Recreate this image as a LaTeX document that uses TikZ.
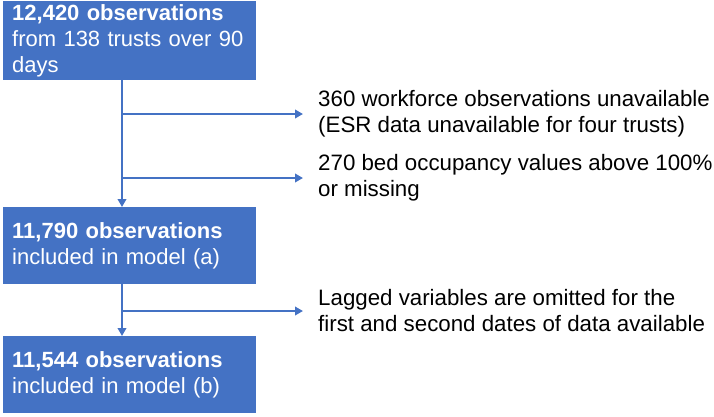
\documentclass[tikz,border=0pt]{standalone}
\usepackage{fontspec}
\setmainfont{Liberation Sans}
\usetikzlibrary{arrows.meta}
\definecolor{obox}{HTML}{4472C4}
\begin{document}
\begin{tikzpicture}[x=1pt,y=-1pt,
  box/.style={fill=obox, draw=none, text=white, minimum width=253pt,
    inner xsep=9pt, inner ysep=0pt, align=left, text width=235pt,
    anchor=north west, font=\fontsize{22}{26}\selectfont},
  note/.style={anchor=west, align=left, inner sep=0pt, text=black,
    font=\fontsize{22.3}{26}\selectfont},
  flow/.style={draw=obox, line width=2.8pt,
    -{Triangle[length=8pt,width=8.5pt]}}]
\useasboundingbox (0,0) rectangle (714,416);
\node[box, minimum height=79pt] (a) at (3,1)
  {\textbf{12,420 observations}\\from 138 trusts over 90\\days};
\node[box, minimum height=77pt] (b) at (3,207)
  {\textbf{11,790 observations}\\included in model (a)};
\node[box, minimum height=77pt] (c) at (3,336)
  {\textbf{11,544 observations}\\included in model (b)};
\node[note] (n1) at (318,114)
  {360 workforce observations unavailable\\(ESR data unavailable for four trusts)};
\node[note] (n2) at (318,178)
  {270 bed occupancy values above 100\%\\or missing};
\node[note] (n3) at (318,311)
  {Lagged variables are omitted for the\\first and second dates of data available};
\coordinate (vx) at (122,0);
\coordinate (j1) at (122,114);
\coordinate (j2) at (122,178);
\coordinate (j3) at (122,311);
\draw[flow] (vx |- a.south) -- (vx |- b.north);
\draw[flow] (vx |- b.south) -- (vx |- c.north);
\draw[flow] (j1) -- ([xshift=-15pt]j1 -| n1.west);
\draw[flow] (j2) -- ([xshift=-15pt]j2 -| n2.west);
\draw[flow] (j3) -- ([xshift=-15pt]j3 -| n3.west);
\end{tikzpicture}
\end{document}
